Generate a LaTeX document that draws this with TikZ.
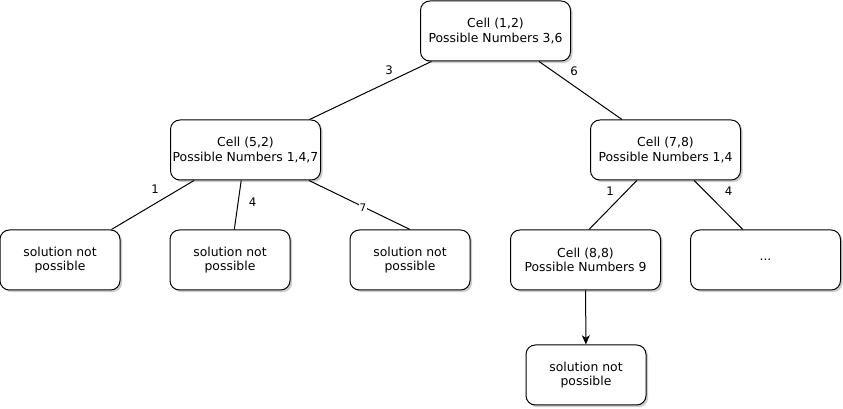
\documentclass[tikz,border=0pt]{standalone}
\usepackage{fontspec}
\setmainfont{DejaVu Sans}
\usetikzlibrary{shadows,arrows.meta,calc}
\begin{document}
\begin{tikzpicture}[x=0.75pt,y=-0.75pt,
  box/.style={draw, line width=0.75pt, rounded corners=7pt, fill=white, align=center,
    font=\fontsize{9.3}{10.6}\selectfont, inner sep=0pt,
    drop shadow={shadow xshift=1.6pt, shadow yshift=-1.6pt, fill=black, opacity=0.2}},
  wide/.style={minimum width=112.5pt, minimum height=45pt},
  narrow/.style={minimum width=90pt, minimum height=45pt},
  edge/.style={line width=0.75pt},
  lbl/.style={font=\fontsize{8.8}{10}\selectfont, inner sep=1pt}]
\useasboundingbox (0,0) rectangle (843,409);

\node[box, wide] (root) at (495.5,31) {Cell (1,2)\\Possible Numbers 3,6};
\node[box, wide] (n52) at (245.5,150) {Cell (5,2)\\Possible Numbers 1,4,7};
\node[box, wide] (n78) at (665.5,150) {Cell (7,8)\\Possible Numbers 1,4};
\node[box, narrow] (l1) at (60,260) {solution not\\possible};
\node[box, narrow] (l2) at (230,260) {solution not\\possible};
\node[box, narrow] (l3) at (410,260) {solution not\\possible};
\node[box, wide] (n88) at (585.5,260) {Cell (8,8)\\Possible Numbers 9};
\node[box, wide] (dots) at (765.5,260) {...};
\node[box, narrow] (l4) at (586,375) {solution not\\possible};

\draw[edge] (root) -- (n52);
\draw[edge] (root) -- (n78);
\draw[edge] (n52) -- (l1);
\draw[edge] (n52) -- (l2);
\draw[edge] ($(n52.south east)+(-12,0)$) -- (l3.north);
\draw[edge] ($(n78.south west)!0.31!(n78.south east)$) -- ($(n88.north)+(3.5,0)$);
\draw[edge] ($(n78.south west)!0.69!(n78.south east)$) -- ($(dots.north west)!0.35!(dots.north east)$);
\draw[edge, -{Stealth[length=7pt,width=6pt,inset=2pt]}] (n88) -- (l4);

\node[lbl] (t3) at (389,70) {3};
\node[lbl] (t6) at (574,71) {6};
\node[lbl] (t1a) at (155,189) {1};
\node[lbl] (t4a) at (252.5,202) {4};
\node[lbl, fill=white, inner sep=0.3pt, font=\fontsize{7.8}{9}\selectfont] (t7) at (363,208) {7};
\node[lbl] (t1b) at (610,191) {1};
\node[lbl] (t4b) at (728.5,191) {4};
\end{tikzpicture}
\end{document}
